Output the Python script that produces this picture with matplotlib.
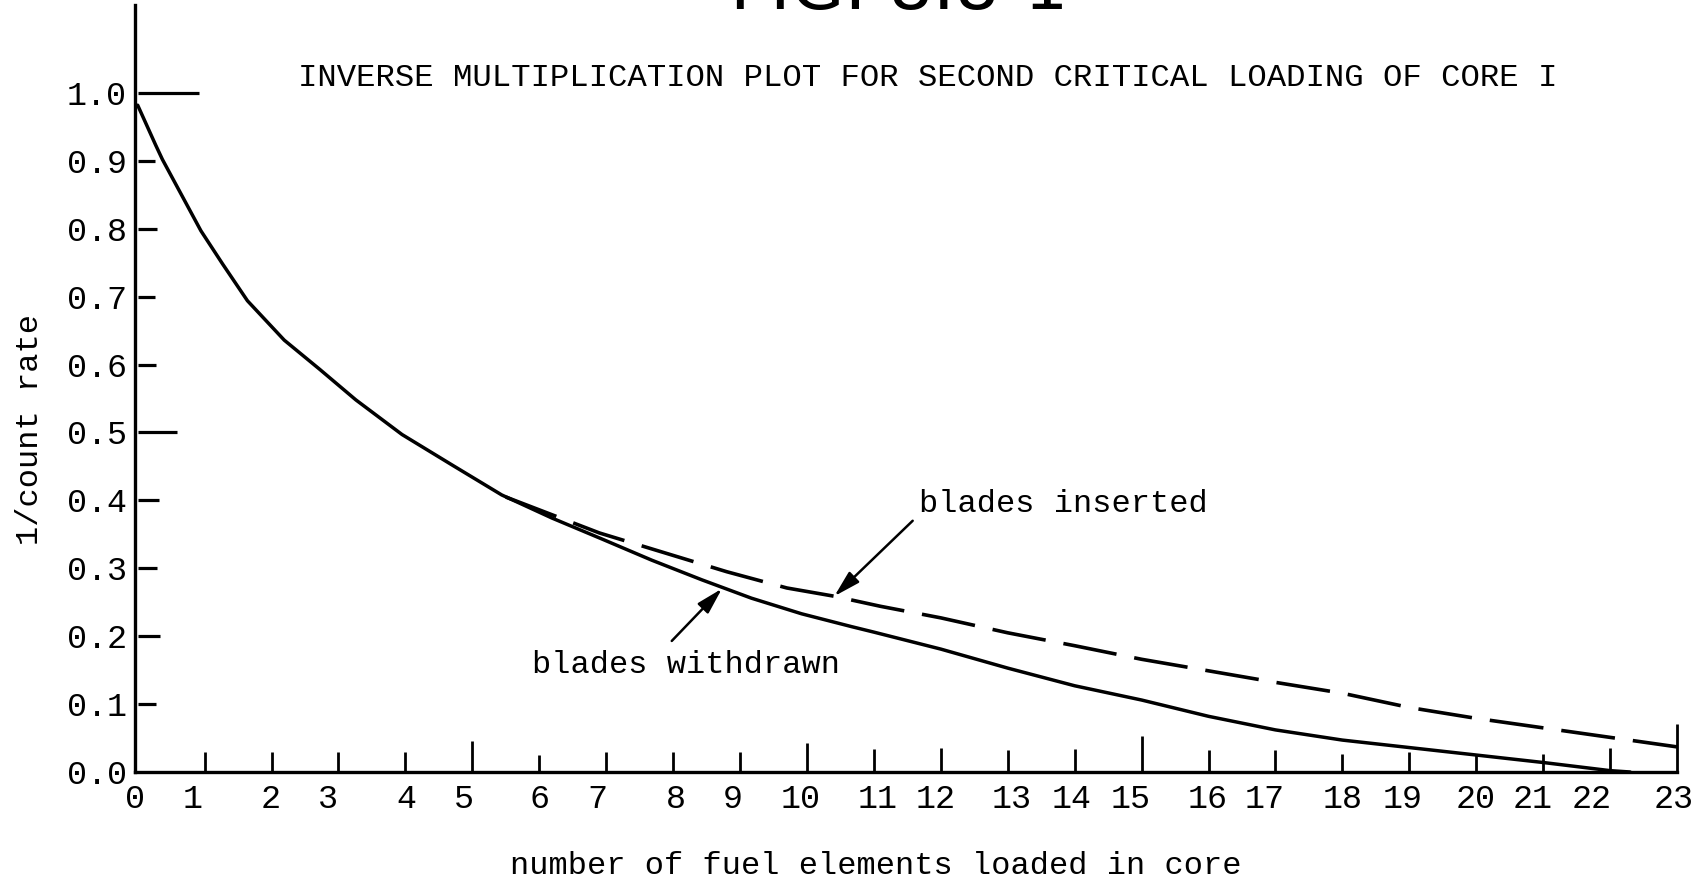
import matplotlib.pyplot as plt
import numpy as np

# readings
x_withdrawn = [0, 0.27, 0.37, 0.945, 1.27, 1.64, 2.19, 2.72, 3.26, 3.95, 4.7,
               5.44, 6.19, 6.94, 7.68, 8.43, 9.17, 9.92, 10.67, 11.0, 12, 13,
               14, 15, 16, 17, 18, 19, 20, 21, 22, 22.3]
y_withdrawn = [0.982, 0.923, 0.902, 0.797, 0.748, 0.694, 0.636, 0.593, 0.548,
               0.497, 0.452, 0.408, 0.374, 0.343, 0.312, 0.283, 0.256, 0.233,
               0.214, 0.206, 0.181, 0.153, 0.127, 0.106, 0.082, 0.062, 0.047,
               0.036, 0.025, 0.014, 0.002, 0.0]

x_inserted = [5.5, 6.9, 8.8, 9.7, 10.4, 11.1, 12, 13, 14, 15, 16, 17, 18, 19,
              20, 21, 22, 23]
y_inserted = [0.405, 0.352, 0.295, 0.271, 0.259, 0.244, 0.227, 0.205, 0.186,
              0.166, 0.149, 0.132, 0.116, 0.095, 0.079, 0.065, 0.051, 0.037]

# y axis ticks and their hand-drawn lengths (in x units)
yticks = [0.0, 0.1, 0.2, 0.3, 0.4, 0.5, 0.6, 0.7, 0.8, 0.9, 1.0]
ytick_len = [0.0, 0.28, 0.34, 0.29, 0.32, 0.59, 0.27, 0.26, 0.29, 0.26, 0.92]

# x axis tick marks (heights in y units) and typed label positions
xticks = list(range(1, 24))
xtick_h = [0.029, 0.029, 0.03, 0.029, 0.046, 0.025, 0.03, 0.03, 0.03, 0.043,
           0.034, 0.035, 0.033, 0.034, 0.053, 0.032, 0.032, 0.027, 0.03,
           0.025, 0.027, 0.036, 0.071]
xlabels = [str(i) for i in range(24)]
xlabel_pos = [-0.04, 0.82, 1.98, 2.85, 4.01, 4.88, 6.01, 6.87, 8.04, 8.89,
              9.90, 11.05, 11.93, 13.06, 13.95, 14.84, 15.98, 16.84, 18.0,
              18.90, 19.99, 20.84, 21.73, 22.95]

plt.rcParams['font.family'] = ['Liberation Mono', 'DejaVu Sans Mono']

W, H = 1704, 883
fig = plt.figure(figsize=(W/100, H/100), dpi=100)
ax = fig.add_axes([135/W, 111/H, 1542/W, 767.3/H])
ax.set_xlim(0, 23)
ax.set_ylim(0, 1.13)

for side in ["top", "right"]:
    ax.spines[side].set_visible(False)
for side in ["left", "bottom"]:
    ax.spines[side].set_linewidth(2.4)

ax.plot(x_withdrawn, y_withdrawn, color="black", lw=2.5,
        solid_joinstyle="round", solid_capstyle="round")
ax.plot(x_inserted, y_inserted, color="black", lw=2.6, dashes=(15, 5))

ax.hlines(yticks, 0, ytick_len, color="black", lw=2.3, clip_on=False)
ax.vlines(xticks, 0, xtick_h, color="black", lw=2.0, clip_on=False)

ax.set_yticks(yticks, [f"{v:.1f}" for v in yticks], fontsize=24)
ax.set_xticks(xlabel_pos, xlabels, fontsize=24)
ax.tick_params(axis="y", length=0, pad=6)
ax.tick_params(axis="x", length=0, pad=9)

ax.set_ylabel("1/count rate", fontsize=23, va="center")
ax.yaxis.set_label_coords(-0.068, 0.447)
ax.set_xlabel("number of fuel elements loaded in core", fontsize=23, va="center")
ax.xaxis.set_label_coords(0.4805, -0.1225)

ax.text(0.514, 0.9045,
        "INVERSE MULTIPLICATION PLOT FOR SECOND CRITICAL LOADING OF CORE I",
        transform=ax.transAxes, ha="center", va="center", fontsize=23.3)

arrow = dict(arrowstyle="-|>,head_length=0.8,head_width=0.22",
             color="black", lw=1.8, mutation_scale=20, shrinkA=0, shrinkB=0)
ax.annotate("", xy=(10.41, 0.259), xytext=(11.58, 0.37), arrowprops=arrow)
ax.annotate("", xy=(8.73, 0.27), xytext=(7.98, 0.193), arrowprops=arrow)
ax.text(11.68, 0.395, "blades inserted", ha="left", va="center", fontsize=23)
ax.text(5.89, 0.158, "blades withdrawn", ha="left", va="center", fontsize=23)

# figure number, cut off by the top edge of the scan
fig.text(730/W, 1 - 9/H, "FIG. 8.8-1", ha="left", va="baseline",
         fontsize=50, family="DejaVu Sans")

fig.savefig("out.png", dpi=100)
